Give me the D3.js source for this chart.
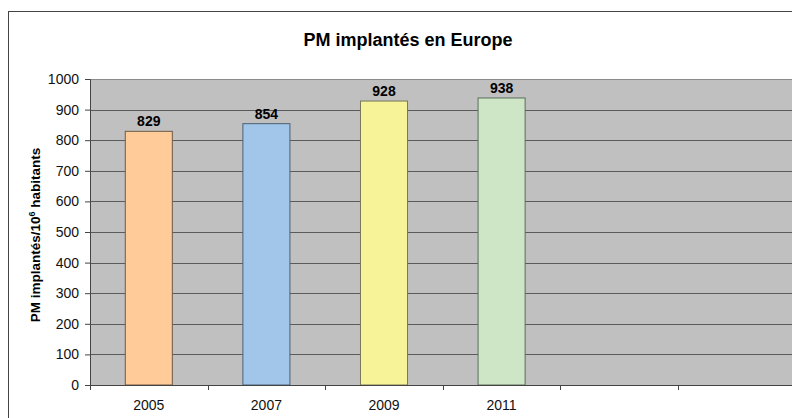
<!DOCTYPE html>
<html><head><meta charset="utf-8">
<script src="https://cdn.jsdelivr.net/npm/d3@7/dist/d3.min.js"></script>
<style>body{margin:0;background:#fff;}svg{display:block;font-family:"Liberation Sans",Arial,sans-serif;}</style>
</head><body>
<svg id="c" width="792" height="418"></svg>
<script>
const categories = ["2005","2007","2009","2011","",""];
const values = [829, 854, 928, 938, null, null];
const fills = ["#FFCC99","#A2C6EA","#F7F398","#CFE6C6"];
const strokes = ["#6b5a48","#4a6075","#77775a","#5a6e5a"];
const yTicks = [0,100,200,300,400,500,600,700,800,900,1000];
const title = "PM implantés en Europe";

(function(){
const svg = d3.select("#c");
const pLeft = 90, pTop = 79, pBottom = 385, bandW = 117.6;
const pRight = pLeft + bandW * categories.length;

svg.append("rect").attr("x",8.5).attr("y",11.5).attr("width",900).attr("height",500)
  .attr("fill","#fff").attr("stroke","#444").attr("stroke-width",1);

const x = d3.scaleBand().domain(categories.map((d,i)=>i)).range([pLeft,pRight]).paddingInner(0).paddingOuter(0);
const y = d3.scaleLinear().domain([0,1000]).range([pBottom, pTop]);

svg.append("rect").attr("x",pLeft).attr("y",pTop).attr("width",pRight-pLeft).attr("height",pBottom-pTop)
  .attr("fill","#C0C0C0");
svg.append("line").attr("x1",pLeft).attr("x2",pRight).attr("y1",pTop+0.5).attr("y2",pTop+0.5).attr("stroke","#8a8a8a");

svg.append("g").selectAll("line").data(yTicks.filter(d=>d>0 && d<1000)).join("line")
  .attr("x1",pLeft).attr("x2",pRight).attr("y1",d=>Math.round(y(d))+0.5).attr("y2",d=>Math.round(y(d))+0.5)
  .attr("stroke","#5a5a5a").attr("stroke-width",1);

const bw = bandW*0.4;
const data = values.map((v,i)=>({v,i})).filter(d=>d.v!=null);
svg.append("g").selectAll("rect").data(data).join("rect")
  .attr("x",d=>x(d.i)+(bandW-bw)/2).attr("width",bw)
  .attr("y",d=>y(d.v)).attr("height",d=>pBottom-y(d.v))
  .attr("fill",d=>fills[d.i]).attr("stroke",d=>strokes[d.i]).attr("stroke-width",1);

svg.append("g").selectAll("text").data(data).join("text")
  .attr("x",d=>x(d.i)+bandW/2).attr("y",d=>y(d.v)-5)
  .attr("text-anchor","middle").attr("font-size",14).attr("font-weight","bold").attr("fill","#000")
  .text(d=>d.v);

const yAxis = d3.axisLeft(y).tickValues(yTicks).tickSize(5).tickPadding(6).tickFormat(d3.format("d"));
const ga = svg.append("g").attr("transform",`translate(${pLeft},0)`).call(yAxis);
ga.select(".domain").attr("stroke","#444");
ga.selectAll(".tick line").attr("stroke","#444");
ga.selectAll("text").attr("font-size",14).attr("fill","#111").attr("font-family","Liberation Sans, Arial, sans-serif");

svg.append("line").attr("x1",pLeft).attr("x2",pRight).attr("y1",pBottom+0.5).attr("y2",pBottom+0.5).attr("stroke","#444");
const ticksX = d3.range(categories.length+1).map(i=>pLeft+i*bandW);
svg.append("g").selectAll("line").data(ticksX).join("line")
  .attr("x1",d=>Math.round(d)+0.5).attr("x2",d=>Math.round(d)+0.5).attr("y1",pBottom).attr("y2",pBottom+5).attr("stroke","#444");
svg.append("g").selectAll("text").data(categories).join("text")
  .attr("x",(d,i)=>x(i)+bandW/2).attr("y",pBottom+25)
  .attr("text-anchor","middle").attr("font-size",14).attr("fill","#111").text(d=>d);

svg.append("text").attr("x",408).attr("y",46).attr("text-anchor","middle")
  .attr("font-size",18).attr("font-weight","bold").text(title);

const yl = svg.append("text").attr("transform","translate(40,235) rotate(-90)")
  .attr("text-anchor","middle").attr("font-size",13.5).attr("font-weight","bold");
yl.append("tspan").text("PM implantés/10");
yl.append("tspan").attr("font-size",9).attr("dy",-5).text("6");
yl.append("tspan").attr("dy",5).text(" habitants");
})();
</script>
</body></html>
